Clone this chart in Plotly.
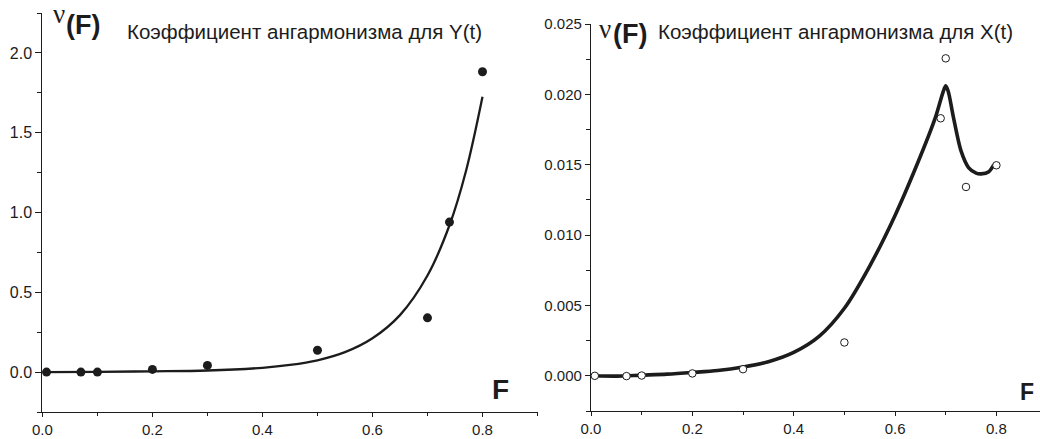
import plotly.graph_objects as go

# ---- data ----
F_pts = [0.0075, 0.07, 0.10, 0.20, 0.30, 0.50, 0.70, 0.74, 0.80]
nuY_pts = [0.0, 0.0, 0.0, 0.017, 0.042, 0.137, 0.340, 0.940, 1.882]

F_fitY = [0.005, 0.10, 0.20, 0.30, 0.40, 0.45, 0.50, 0.55, 0.60, 0.65, 0.70, 0.74, 0.77, 0.80]
nuY_fit = [0.0, 0.002, 0.005, 0.010, 0.027, 0.045, 0.074, 0.125, 0.212, 0.357, 0.605, 0.920, 1.260, 1.725]

F_ptsX = [0.0075, 0.07, 0.10, 0.20, 0.30, 0.50, 0.69, 0.70, 0.74, 0.80]
nuX_pts = [0.0, -0.00002, 0.00002, 0.00017, 0.00047, 0.00237, 0.0183, 0.02256, 0.01342, 0.01496]

F_fitX = [0.0075, 0.05, 0.10, 0.15, 0.20, 0.25, 0.30, 0.35, 0.40, 0.45, 0.50, 0.55, 0.60, 0.65,
          0.68, 0.695, 0.70, 0.705, 0.715, 0.73, 0.745, 0.76, 0.77, 0.785, 0.795]
nuX_fit = [0.0, -0.00002, 0.00005, 0.00012, 0.00024, 0.00038, 0.00063, 0.00100, 0.00166, 0.0028,
           0.0048, 0.0078, 0.0114, 0.0156, 0.0184, 0.0202, 0.0206, 0.0202, 0.0184, 0.0160,
           0.0148, 0.0144, 0.01435, 0.0145, 0.0150]

left_title = "Коэффициент ангармонизма для Y(t)"
right_title = "Коэффициент ангармонизма для X(t)"

W, H = 1040, 439
INK = "#1c1c1c"

def px(x):
    return x / W

def py(y):
    return 1 - y / H

fig = go.Figure()

fig.add_trace(go.Scatter(x=F_fitY, y=nuY_fit, mode="lines", line=dict(color=INK, width=2.3, shape="spline"),
                         xaxis="x", yaxis="y", hoverinfo="skip"))
fig.add_trace(go.Scatter(x=F_pts, y=nuY_pts, mode="markers",
                         marker=dict(color=INK, size=9, line=dict(width=0)),
                         xaxis="x", yaxis="y", cliponaxis=False))
fig.add_trace(go.Scatter(x=F_fitX, y=nuX_fit, mode="lines", line=dict(color=INK, width=3.6, shape="spline", smoothing=0.8),
                         xaxis="x2", yaxis="y2", hoverinfo="skip"))
fig.add_trace(go.Scatter(x=F_ptsX, y=nuX_pts, mode="markers",
                         marker=dict(color="white", size=7.5, line=dict(color=INK, width=1)),
                         xaxis="x2", yaxis="y2", cliponaxis=False))

ytickfont = dict(family="Liberation Sans, Arial, sans-serif", size=16, color=INK)
xtickfont = dict(family="Liberation Sans, Arial, sans-serif", size=15, color=INK)
tickfont_r = dict(family="Liberation Sans, Arial, sans-serif", size=15, color=INK)

common = dict(showgrid=False, zeroline=False, showline=True, linecolor=INK, linewidth=1.3,
              ticks="outside", tickwidth=1.2, tickcolor=INK, automargin=False)

fig.update_layout(
    width=W, height=H, margin=dict(l=0, r=0, t=0, b=0, pad=0, autoexpand=False),
    paper_bgcolor="white", plot_bgcolor="white", showlegend=False,
    xaxis=dict(domain=[px(42.4), px(537.5)], range=[0, 0.9], dtick=0.2, tick0=0, tickformat=".1f",
               ticklen=4, minor=dict(dtick=0.1, ticklen=3, ticks="outside", tickcolor=INK), tickfont=xtickfont,
               anchor="y", **common),
    yaxis=dict(domain=[py(412), py(13)], range=[-0.25, 2.25], tickvals=[0, 0.5, 1.0, 1.5, 2.0], tickformat=".1f",
               ticklen=6, minor=dict(dtick=0.25, tick0=0, ticklen=4, ticks="outside", tickcolor=INK), tickfont=ytickfont,
               anchor="x", **common),
    xaxis2=dict(domain=[px(591), 1.0], range=[0, 0.886], dtick=0.2, tick0=0, tickformat=".1f",
                ticklen=4, minor=dict(dtick=0.1, ticklen=3, ticks="outside", tickcolor=INK), tickfont=tickfont_r,
                anchor="y2", **common),
    yaxis2=dict(domain=[py(411), py(24)], range=[-0.0025, 0.025], dtick=0.005, tick0=0, tickformat=".3f",
                ticklen=5, minor=dict(dtick=0.0025, tick0=0, ticklen=4, ticks="outside", tickcolor=INK), tickfont=tickfont_r,
                anchor="x2", **common),
)

bold_font = "Liberation Sans, Arial, sans-serif"
serif = "Liberation Serif, Times New Roman, serif"
sans = "Liberation Sans, Arial, sans-serif"

ann = []
# left panel labels
ann.append(dict(x=px(58.5), y=py(13.5), text="ν", font=dict(family=serif, size=27, color=INK)))
ann.append(dict(x=px(83), y=py(25), text="<b>(F)</b>", font=dict(family=bold_font, size=27, color=INK)))
ann.append(dict(x=px(125), y=py(31), text=left_title, xanchor="left", font=dict(family=sans, size=20.5, color=INK)))
ann.append(dict(x=px(500), y=py(389), text="<b>F</b>", font=dict(family=bold_font, size=28, color=INK)))
# right panel labels
ann.append(dict(x=px(604.5), y=py(29), text="ν", font=dict(family=serif, size=27, color=INK)))
ann.append(dict(x=px(630), y=py(34), text="<b>(F)</b>", font=dict(family=bold_font, size=27, color=INK)))
ann.append(dict(x=px(656), y=py(31), text=right_title, xanchor="left", font=dict(family=sans, size=20.5, color=INK)))
ann.append(dict(x=px(1027), y=py(391.5), text="<b>F</b>", font=dict(family=bold_font, size=23, color=INK)))

for a in ann:
    a.setdefault("xanchor", "center")
    a.update(xref="paper", yref="paper", yanchor="middle", showarrow=False)

fig.update_layout(annotations=ann)

fig.write_html("out.html")
